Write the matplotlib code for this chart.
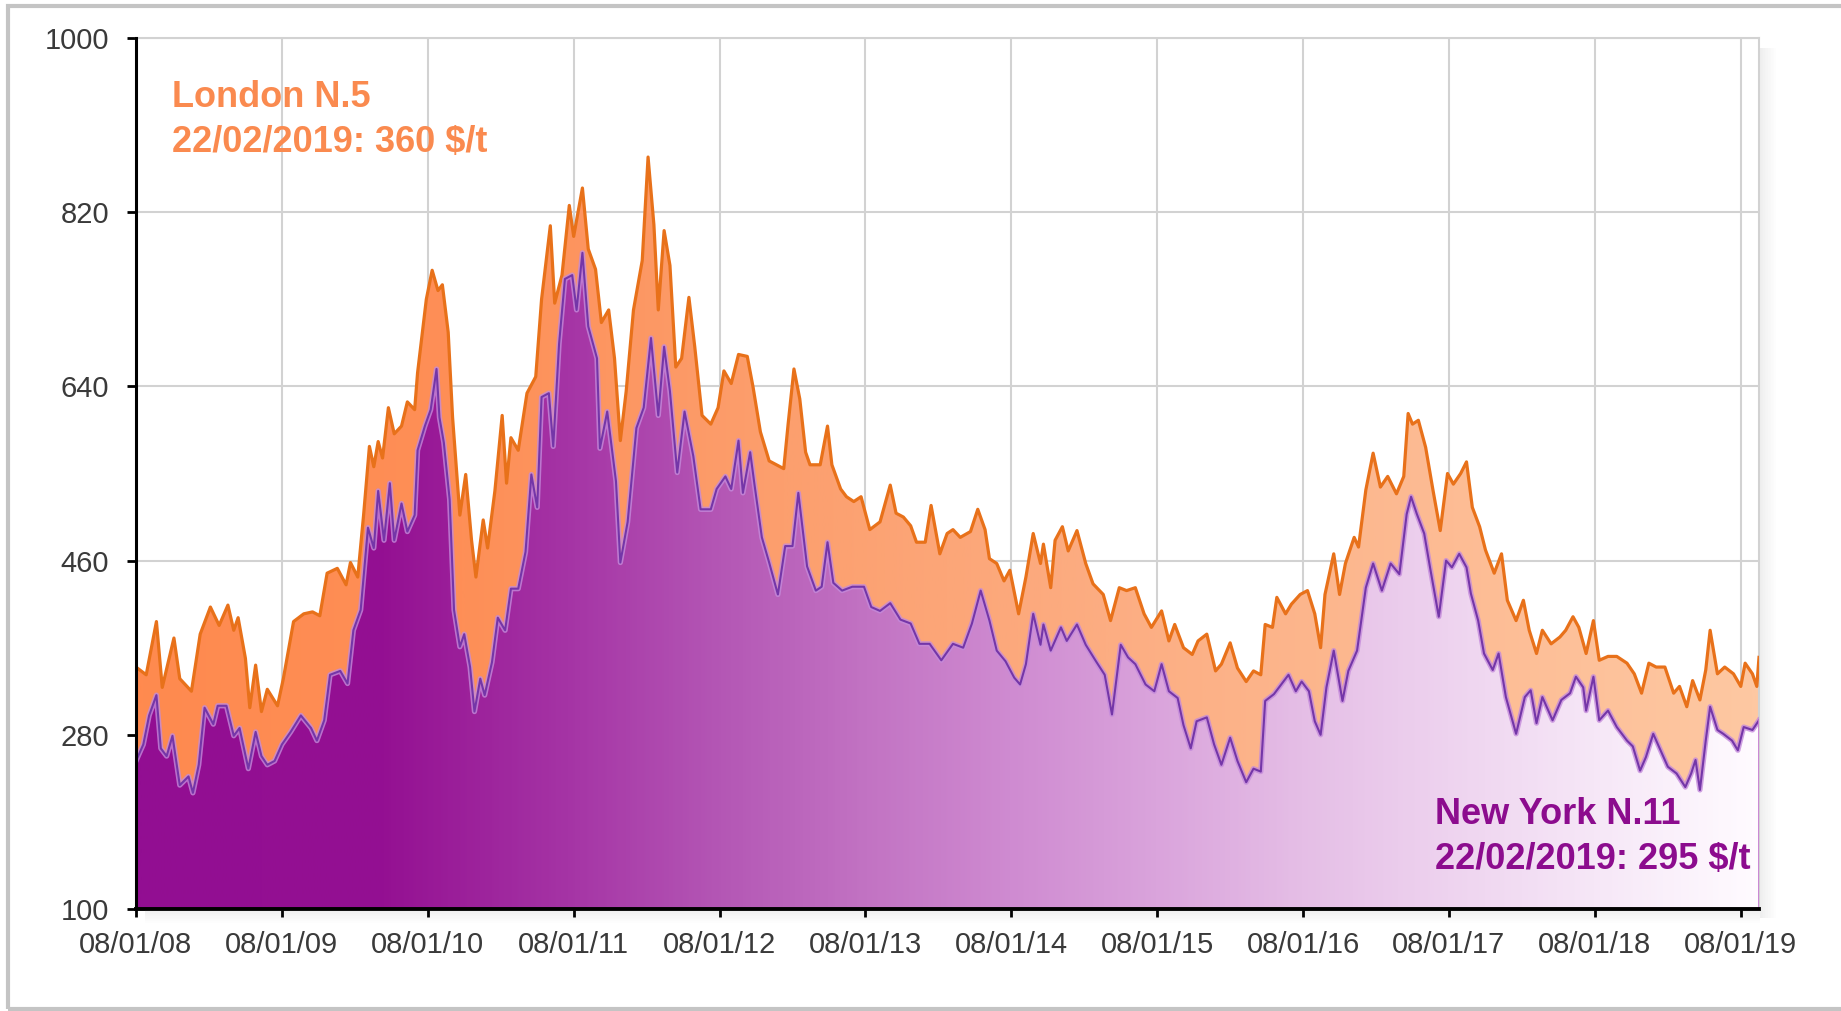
import numpy as np
import pandas as pd
import matplotlib
matplotlib.use('Agg')
import matplotlib.pyplot as plt
import matplotlib.dates as mdates
from matplotlib.patches import Polygon, Rectangle
from matplotlib.colors import LinearSegmentedColormap

plt.rcParams['font.family'] = ['Liberation Sans', 'DejaVu Sans']

# years since 08/01/2008 and price ($/t)
london_t = [0.00, 0.07, 0.14, 0.18, 0.26, 0.30, 0.38, 0.44, 0.51, 0.57, 0.63, 0.67, 0.70, 0.75,
            0.78, 0.82, 0.86, 0.90, 0.97, 1.01, 1.08, 1.15, 1.21, 1.26, 1.31, 1.38, 1.44, 1.47,
            1.52, 1.56, 1.60, 1.63, 1.66, 1.69, 1.73, 1.77, 1.82, 1.86, 1.91, 1.93, 1.99, 2.03,
            2.07, 2.10, 2.14, 2.17, 2.22, 2.26, 2.30, 2.33, 2.38, 2.41, 2.46, 2.51, 2.54, 2.57,
            2.62, 2.68, 2.74, 2.78, 2.84, 2.87, 2.92, 2.97, 3.00, 3.06, 3.10, 3.15, 3.19, 3.24,
            3.28, 3.32, 3.36, 3.41, 3.47, 3.51, 3.55, 3.58, 3.62, 3.66, 3.70, 3.74, 3.79, 3.83,
            3.88, 3.94, 3.99, 4.03, 4.08, 4.13, 4.19, 4.23, 4.28, 4.34, 4.39, 4.44, 4.47, 4.51,
            4.55, 4.59, 4.62, 4.69, 4.74, 4.77, 4.83, 4.87, 4.92, 4.97, 5.03, 5.10, 5.17, 5.21,
            5.26, 5.31, 5.35, 5.41, 5.45, 5.51, 5.56, 5.60, 5.65, 5.72, 5.77, 5.82, 5.85, 5.90,
            5.95, 5.99, 6.05, 6.10, 6.15, 6.20, 6.22, 6.27, 6.30, 6.35, 6.39, 6.45, 6.51, 6.56,
            6.63, 6.68, 6.74, 6.79, 6.85, 6.91, 6.96, 7.03, 7.08, 7.12, 7.18, 7.24, 7.28, 7.34,
            7.40, 7.44, 7.50, 7.55, 7.61, 7.66, 7.71, 7.74, 7.79, 7.82, 7.88, 7.92, 7.98, 8.03,
            8.08, 8.12, 8.15, 8.21, 8.25, 8.29, 8.35, 8.38, 8.43, 8.48, 8.53, 8.58, 8.64, 8.69,
            8.72, 8.75, 8.79, 8.84, 8.89, 8.94, 8.99, 9.03, 9.08, 9.12, 9.16, 9.21, 9.25, 9.31,
            9.36, 9.40, 9.46, 9.51, 9.55, 9.60, 9.64, 9.70, 9.76, 9.80, 9.85, 9.89, 9.94, 9.99,
            10.03, 10.09, 10.15, 10.22, 10.27, 10.32, 10.37, 10.42, 10.48, 10.54, 10.58, 10.63,
            10.67, 10.72, 10.76, 10.79, 10.84, 10.89, 10.95, 11.00, 11.03, 11.08, 11.11, 11.125]
london_v = [350, 342, 397, 329, 380, 338, 325, 384, 412, 393, 414, 388, 401, 359,
            308, 352, 304, 327, 310, 338, 397, 405, 407, 403, 447, 452, 435, 458,
            443, 507, 578, 557, 583, 566, 618, 591, 599, 624, 616, 654, 730, 760,
            739, 745, 696, 608, 507, 549, 481, 443, 502, 473, 532, 610, 540, 587,
            574, 633, 650, 730, 806, 726, 755, 827, 795, 845, 782, 761, 706, 719,
            669, 584, 635, 719, 770, 877, 807, 719, 801, 765, 660, 669, 732, 681,
            610, 601, 618, 656, 643, 673, 671, 639, 593, 563, 559, 555, 601, 658,
            627, 572, 559, 559, 599, 559, 534, 526, 521, 526, 492, 500, 538, 509,
            505, 496, 479, 479, 517, 467, 488, 492, 484, 490, 513, 492, 462, 457,
            439, 450, 405, 443, 488, 457, 477, 432, 481, 495, 470, 491, 457, 436,
            425, 398, 432, 429, 432, 405, 391, 408, 377, 394, 370, 363, 377, 384,
            346, 353, 375, 349, 335, 346, 342, 394, 391, 422, 405, 415, 425, 429,
            405, 370, 425, 467, 425, 457, 484, 474, 533, 571, 536, 547, 529, 547,
            612, 601, 605, 577, 533, 491, 550, 539, 550, 562, 515, 495, 471, 447,
            467, 419, 398, 419, 388, 364, 388, 374, 381, 388, 402, 391, 364, 398,
            357, 361, 361, 354, 343, 323, 354, 350, 350, 323, 330, 309,
            336, 316, 347, 388, 343, 350, 343, 330, 354, 343, 330, 360]

newyork_t = [0.00, 0.05, 0.09, 0.14, 0.17, 0.21, 0.25, 0.30, 0.36, 0.39, 0.43, 0.47, 0.53, 0.56,
             0.62, 0.67, 0.71, 0.77, 0.82, 0.86, 0.90, 0.95, 1.00, 1.06, 1.13, 1.20, 1.24, 1.29,
             1.33, 1.40, 1.45, 1.49, 1.54, 1.59, 1.63, 1.66, 1.70, 1.74, 1.77, 1.82, 1.86, 1.91,
             1.93, 1.98, 2.02, 2.06, 2.08, 2.11, 2.15, 2.18, 2.22, 2.25, 2.29, 2.32, 2.36, 2.39,
             2.44, 2.48, 2.53, 2.57, 2.62, 2.67, 2.71, 2.75, 2.78, 2.83, 2.86, 2.90, 2.94, 2.99,
             3.02, 3.06, 3.10, 3.16, 3.18, 3.23, 3.29, 3.32, 3.37, 3.43, 3.48, 3.53, 3.58, 3.62,
             3.66, 3.71, 3.76, 3.82, 3.87, 3.94, 3.98, 4.04, 4.08, 4.13, 4.16, 4.21, 4.24, 4.29,
             4.34, 4.40, 4.45, 4.50, 4.54, 4.60, 4.66, 4.70, 4.74, 4.78, 4.84, 4.91, 4.99, 5.04,
             5.10, 5.17, 5.24, 5.31, 5.37, 5.44, 5.52, 5.60, 5.67, 5.73, 5.79, 5.85, 5.90, 5.96,
             6.02, 6.06, 6.10, 6.15, 6.20, 6.22, 6.27, 6.34, 6.38, 6.45, 6.51, 6.58, 6.64, 6.69,
             6.75, 6.80, 6.85, 6.92, 6.98, 7.03, 7.08, 7.14, 7.18, 7.23, 7.27, 7.34, 7.39, 7.44,
             7.50, 7.55, 7.61, 7.66, 7.71, 7.74, 7.80, 7.85, 7.90, 7.95, 7.99, 8.04, 8.08, 8.12,
             8.16, 8.21, 8.27, 8.31, 8.37, 8.43, 8.48, 8.54, 8.60, 8.66, 8.71, 8.74, 8.78, 8.83,
             8.87, 8.93, 8.98, 9.02, 9.07, 9.12, 9.15, 9.20, 9.24, 9.30, 9.34, 9.39, 9.46, 9.52,
             9.56, 9.60, 9.64, 9.71, 9.77, 9.83, 9.87, 9.92, 9.94, 9.99, 10.03, 10.09, 10.15,
             10.22, 10.26, 10.31, 10.35, 10.40, 10.45, 10.50, 10.56, 10.62, 10.66, 10.69, 10.72,
             10.76, 10.79, 10.84, 10.88, 10.94, 10.98, 11.02, 11.08, 11.125]
newyork_v = [253, 270, 300, 321, 266, 258, 279, 228, 237, 220, 249, 308, 291, 310,
             310, 279, 287, 245, 283, 258, 249, 253, 270, 283, 300, 287, 274, 295,
             342, 346, 333, 388, 409, 494, 473, 532, 481, 540, 481, 519, 490, 507,
             574, 599, 616, 658, 608, 582, 523, 409, 371, 384, 350, 304, 338, 321,
             355, 401, 388, 431, 431, 469, 549, 515, 629, 633, 578, 684, 751, 755,
             719, 778, 702, 669, 576, 614, 542, 458, 500, 597, 618, 690, 610, 681,
             635, 551, 614, 568, 513, 513, 534, 547, 534, 584, 530, 572, 538, 484,
             458, 425, 475, 475, 530, 454, 429, 433, 479, 437, 429, 433, 433, 412,
             408, 416, 399, 395, 374, 374, 357, 374, 370, 395, 429, 398, 367, 356,
             339, 332, 353, 405, 373, 394, 367, 391, 377, 394, 373, 356, 342, 301,
             373, 360, 353, 332, 325, 353, 325, 318, 290, 266, 294, 298, 270, 249,
             277, 253, 231, 245, 242, 315, 322, 332, 342, 325, 335, 325, 294, 280,
             329, 367, 315, 346, 367, 432, 457, 429, 457, 446, 508, 526, 508, 488,
             453, 402, 460, 453, 467, 453, 426, 398, 364, 347, 364, 319, 281, 319,
             326, 292, 319, 295, 316, 323, 340, 329, 305, 340, 295, 305, 288,
             274, 268, 243, 257, 281, 264, 247, 240, 226, 240, 254, 223,
             274, 309, 285, 281, 274, 264, 288, 285, 295]

yticks = [100, 280, 460, 640, 820, 1000]
xtick_years = list(range(2008, 2020))
xtick_labels = ['08/01/%02d' % (y % 100) for y in xtick_years]

W, H = 1841, 1011
start = pd.Timestamp('2008-01-08')


def to_num(t):
    return mdates.date2num(start + pd.to_timedelta(np.array(t) * 365.25, unit='D'))


xl = to_num(london_t)
xn = to_num(newyork_t)
x0 = xl[0]
x1 = max(xl[-1], xn[-1])

fig = plt.figure(figsize=(W / 100, H / 100), dpi=100)
ax = fig.add_axes([136 / W, 1 - 909 / H, (1759 - 136) / W, (909 - 38) / H])


def px(x, y):
    return x / W, 1 - y / H


def grad_fill(x, y, stops, z):
    verts = [(x[0], 100)] + list(zip(x, y)) + [(x[-1], 100)]
    poly = Polygon(verts, closed=True, facecolor='none', edgecolor='none')
    ax.add_patch(poly)
    cmap = LinearSegmentedColormap.from_list('g', stops)
    grad = np.linspace(0, 1, 600).reshape(1, -1)
    im = ax.imshow(grad, cmap=cmap, aspect='auto', extent=[x0, x1, 100, 1000],
                   origin='lower', zorder=z, interpolation='bilinear')
    im.set_clip_path(poly)


orange_stops = [(0, '#FF8A4F'), (0.2, '#FE8F57'), (0.4, '#FC9F6E'), (0.6, '#FCAD82'),
                (0.8, '#FDBB93'), (1.0, '#FEC8A2')]
purple_stops = [(0, '#920E92'), (0.15, '#941092'), (0.27, '#A636A6'), (0.36, '#B457B5'),
                (0.45, '#C273C3'), (0.54, '#CF8BD1'), (0.63, '#DAA4DC'), (0.72, '#E5BEE6'),
                (0.81, '#EED3EF'), (0.90, '#F6E7F7'), (1.0, '#FFFBFF')]

grad_fill(xl, london_v, orange_stops, 2)
ax.plot(xl, london_v, color='#E8711A', lw=2.3, zorder=3)
grad_fill(xn, newyork_v, purple_stops, 4)
ax.plot(xn, newyork_v, color='#C48ADB', lw=3.8, zorder=5, alpha=0.8)
ax.plot(xn, newyork_v, color='#7436A8', lw=1.5, zorder=6)
ax.plot([xn[-1], xn[-1]], [100, newyork_v[-1]], color='#C57BD0', lw=2, zorder=6)

ax.set_xlim(x0, x1)
ax.set_ylim(100, 1000)
ax.set_yticks(yticks)
ax.set_xticks(to_num([y - 2008 for y in xtick_years]))
ax.set_xticklabels(xtick_labels)
ax.grid(True, color='#D2D2D2', lw=1.5, zorder=0)
ax.set_axisbelow(True)

for s in ['top', 'right']:
    ax.spines[s].set_color('#D2D2D2')
    ax.spines[s].set_linewidth(1.5)
ax.spines['left'].set_linewidth(2.2)
ax.spines['bottom'].set_linewidth(2.8)
ax.spines['left'].set_zorder(8)
ax.spines['bottom'].set_zorder(8)
ax.tick_params(axis='y', length=6.5, width=2, pad=13, labelsize=21, labelcolor='#3A3A3A')
ax.tick_params(axis='x', length=6, width=2, pad=10, labelsize=21, labelcolor='#3A3A3A')

# drop shadow of the plot area
for i in range(10):
    a = 0.09 * (1 - i / 10)
    fig.patches.append(Rectangle(px(1760 + i * 1.6, 918), 1.6 / W, (918 - 48) / H,
                                 transform=fig.transFigure, color='#505050', alpha=a, lw=0))
    fig.patches.append(Rectangle(px(145, 911 + i * 1.3), (1760 - 145) / W, 1.3 / H,
                                 transform=fig.transFigure, color='#505050', alpha=a, lw=0))

# outer frame
fig.patches.append(Rectangle(px(8, 1009), (W + 20) / W, (1009 - 6) / H, transform=fig.transFigure,
                             fill=False, edgecolor='#C4C4C4', lw=3, clip_on=False))

fig.text(*px(172, 107), 'London N.5', color='#FA8A4F', fontsize=26, fontweight='bold', va='baseline')
fig.text(*px(172, 152), '22/02/2019: 360 $/t', color='#FA8A4F', fontsize=26, fontweight='bold', va='baseline')
fig.text(*px(1435, 824), 'New York N.11', color='#8C0C8E', fontsize=26, fontweight='bold', va='baseline')
fig.text(*px(1435, 869), '22/02/2019: 295 $/t', color='#8C0C8E', fontsize=26, fontweight='bold', va='baseline')

fig.savefig('out.png', dpi=100, facecolor='white')
